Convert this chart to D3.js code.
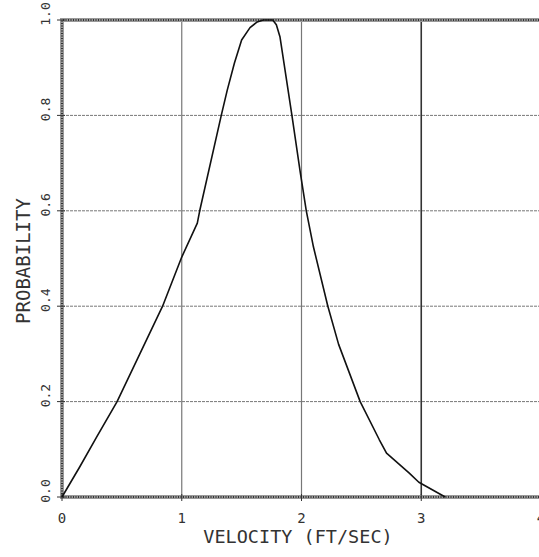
<!DOCTYPE html>
<html>
<head>
<meta charset="utf-8">
<script src="https://cdn.jsdelivr.net/npm/d3@7"></script>
<style>
  body { margin: 0; background: #fff; }
  text { font-family: "DejaVu Sans Mono", "Liberation Mono", monospace; fill: #333; }
</style>
</head>
<body>
<div id="chart"></div>
<script>
// values
const velocity = [0, 0.15, 0.29, 0.46, 0.65, 0.84, 1.0, 1.13, 1.15, 1.33, 1.38, 1.44, 1.5, 1.57, 1.63, 1.68, 1.76, 1.79, 1.82, 1.92, 1.99, 2.04, 2.1, 2.22, 2.31, 2.49, 2.65, 2.71, 2.9, 2.98, 3.2];
const probability = [0, 0.064, 0.126, 0.2, 0.3, 0.4, 0.503, 0.574, 0.6, 0.8, 0.853, 0.91, 0.958, 0.984, 0.996, 1.0, 1.0, 0.99, 0.965, 0.8, 0.68, 0.6, 0.524, 0.4, 0.32, 0.2, 0.12, 0.092, 0.05, 0.031, 0];
const xTicks = [0, 1, 2, 3, 4];
const yTicks = [0, 0.2, 0.4, 0.6, 0.8, 1.0];

const width = 539, height = 557;
const margin = { left: 62, top: 20, bottom: 60 };

const svg = d3.select('#chart').append('svg')
  .attr('width', width)
  .attr('height', height);

const x = d3.scaleLinear().domain([0, 4]).range([margin.left, 541]);
const y = d3.scaleLinear().domain([0, 1]).range([height - margin.bottom, margin.top]);

// grid
svg.append('g').selectAll('line')
  .data(xTicks.filter(d => d > 0))
  .join('line')
  .attr('x1', d => x(d)).attr('x2', d => x(d))
  .attr('y1', y(1)).attr('y2', y(0))
  .attr('stroke', d => d === 3 ? '#333' : '#777')
  .attr('stroke-width', d => d === 3 ? 1.6 : 1.2);

svg.append('g').selectAll('line')
  .data(yTicks.filter(d => d > 0 && d < 1))
  .join('line')
  .attr('x1', x(0)).attr('x2', width)
  .attr('y1', d => y(d)).attr('y2', d => y(d))
  .attr('stroke', '#777').attr('stroke-width', 1)
  .attr('stroke-dasharray', '3,1');

// frame (stippled look)
const frame = svg.append('g').attr('fill', 'none');
[['#999', 4, null], ['#333', 2, '1,1.5']].forEach(([c, w, dash]) => {
  frame.append('path')
    .attr('d', `M${width},${y(1)}H${x(0)}V${y(0)}H${width}`)
    .attr('stroke', c).attr('stroke-width', w)
    .attr('stroke-dasharray', dash);
});

// ticks
svg.append('g').selectAll('line')
  .data(yTicks)
  .join('line')
  .attr('x1', x(0) - 5).attr('x2', x(0) + 3)
  .attr('y1', d => y(d)).attr('y2', d => y(d))
  .attr('stroke', '#333');

svg.append('g').selectAll('line')
  .data(xTicks)
  .join('line')
  .attr('x1', d => x(d)).attr('x2', d => x(d))
  .attr('y1', y(0) - 3).attr('y2', y(0) + 4)
  .attr('stroke', '#333');

// tick labels
svg.append('g').selectAll('text')
  .data(xTicks)
  .join('text')
  .attr('x', d => x(d))
  .attr('y', y(0) + 26)
  .attr('text-anchor', 'middle')
  .attr('font-size', 14)
  .text(d => d);

svg.append('g').selectAll('text')
  .data(yTicks)
  .join('text')
  .attr('transform', d => `translate(50,${y(d) - 6}) rotate(-90)`)
  .attr('text-anchor', 'middle')
  .attr('font-size', 13)
  .text(d => d3.format('.1f')(d));

// axis titles
svg.append('text')
  .attr('x', 298).attr('y', 543)
  .attr('text-anchor', 'middle')
  .attr('font-size', 18.5)
  .text('VELOCITY (FT/SEC)');

svg.append('text')
  .attr('transform', `translate(30,261) rotate(-90)`)
  .attr('text-anchor', 'middle')
  .attr('font-size', 19)
  .text('PROBABILITY');

// curve
const pts = velocity.map((v, i) => [v, probability[i]]);
svg.append('path')
  .datum(pts)
  .attr('fill', 'none')
  .attr('stroke', '#111')
  .attr('stroke-width', 1.6)
  .attr('stroke-linejoin', 'round')
  .attr('d', d3.line().x(d => x(d[0])).y(d => y(d[1])));
</script>
</body>
</html>
